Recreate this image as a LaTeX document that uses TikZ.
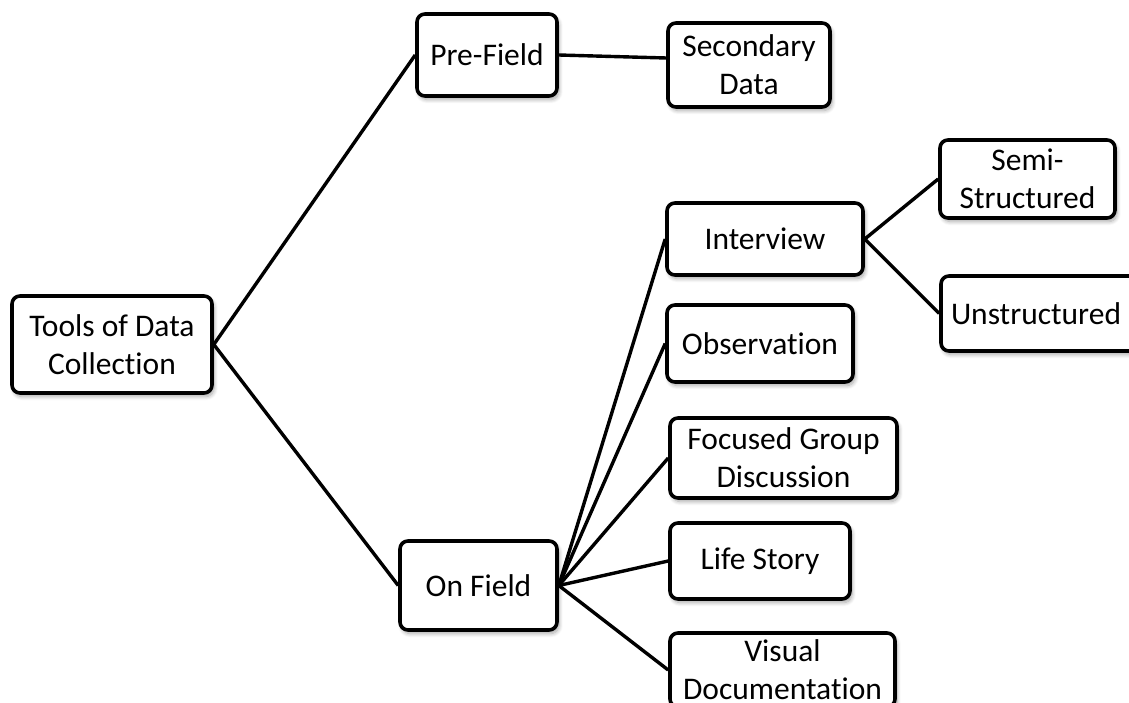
\documentclass[tikz,border=0pt]{standalone}
\usepackage{fontspec}
\setmainfont{Carlito}[Ligatures=NoCommon]
\usetikzlibrary{shadows.blur,calc}
\begin{document}
\begin{tikzpicture}[x=1pt,y=-1pt,
  box/.style={draw, line width=3.6pt, rounded corners=8pt, fill=white, align=center, inner sep=0pt,
    font=\fontsize{31.5}{38}\selectfont,
    blur shadow={shadow xshift=2pt, shadow yshift=-3.5pt, shadow blur steps=8, shadow blur radius=4pt, shadow opacity=35}},
  conn/.style={line width=3.4pt}]
\useasboundingbox (0,0) rectangle (1129,703);
\clip (0,0) rectangle (1129,703);
\node[box, minimum width=200pt, minimum height=97pt] (tools) at (112,344.5) {Tools of Data\\Collection};
\node[box, minimum width=140pt, minimum height=82pt] (pre) at (487,55) {Pre-Field};
\node[box, minimum width=162pt, minimum height=84pt] (sec) at (749,65) {Secondary\\Data};
\node[box, minimum width=157pt, minimum height=89pt] (onf) at (478.5,585.5) {On Field};
\node[box, minimum width=196pt, minimum height=72pt] (intv) at (765,239) {Interview};
\node[box, minimum width=186pt, minimum height=77pt] (obs) at (760,343.5) {Observation};
\node[box, minimum width=227pt, minimum height=80pt] (fgd) at (783.5,458) {Focused Group\\Discussion};
\node[box, minimum width=180pt, minimum height=76pt] (life) at (760,561) {Life Story};
\node[box, minimum width=225pt, minimum height=74pt] (vis) at (782.5,670) {Visual\\Documentation};
\node[box, minimum width=175pt, minimum height=78pt] (semi) at (1027.5,179) {Semi-\\Structured};
\node[box, minimum width=200pt, minimum height=75pt] (uns) at (1041,313.5) {\hspace*{-10pt}Unstructured};
\draw[conn] (tools.east) -- (pre.west);
\draw[conn] (tools.east) -- (onf.west);
\draw[conn] (pre.east) -- ($(sec.west)+(0,-7)$);
\draw[conn] (onf.east) -- (intv.west);
\draw[conn] (onf.east) -- (obs.west);
\draw[conn] (onf.east) -- (fgd.west);
\draw[conn] (onf.east) -- (life.west);
\draw[conn] (onf.east) -- (vis.west);
\draw[conn] (intv.east) -- (semi.west);
\draw[conn] (intv.east) -- (uns.west);
\end{tikzpicture}
\end{document}
